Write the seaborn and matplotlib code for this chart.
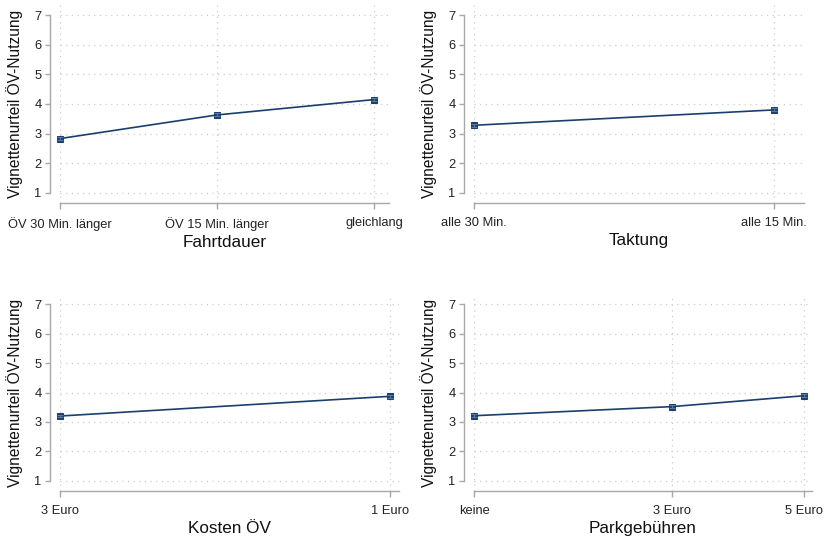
import matplotlib

matplotlib.use("Agg")

import matplotlib.pyplot as plt
import pandas as pd
import seaborn as sns

# panel data
fahrt_x = [0, 1, 2]
fahrt_labels = ["ÖV 30 Min. länger", "ÖV 15 Min. länger", "gleichlang"]
fahrt_mean = [2.83, 3.63, 4.15]
fahrt_ci = [0.05, 0.05, 0.05]

takt_x = [0, 1]
takt_labels = ["alle 30 Min.", "alle 15 Min."]
takt_mean = [3.28, 3.80]
takt_ci = [0.05, 0.05]

kosten_x = [0, 1]
kosten_labels = ["3 Euro", "1 Euro"]
kosten_mean = [3.20, 3.87]
kosten_ci = [0.05, 0.05]

park_x = [0, 3, 5]
park_labels = ["keine", "3 Euro", "5 Euro"]
park_mean = [3.21, 3.52, 3.89]
park_ci = [0.05, 0.05, 0.05]

y_ticks = [1, 2, 3, 4, 5, 6, 7]
y_label = "Vignettenurteil ÖV-Nutzung"

NAVY = "#1a3f6f"
AXIS_GREY = "#a8a8a8"
GRID_GREY = "#cccccc"

W, H = 827, 542

sns.set_theme(style="white")
plt.rcParams["font.family"] = ["Liberation Sans", "DejaVu Sans"]

fig = plt.figure(figsize=(W / 100, H / 100), dpi=100)


def rect(l, r, t, b):
    return [l / W, 1 - b / H, (r - l) / W, (b - t) / H]


panels = [
    (rect(60, 389, 5, 203), fahrt_x, fahrt_labels, fahrt_mean, fahrt_ci, "Fahrtdauer", 2.095),
    (rect(474, 804, 5, 203), takt_x, takt_labels, takt_mean, takt_ci, "Taktung", 1.10),
    (rect(60, 399, 294, 491), kosten_x, kosten_labels, kosten_mean, kosten_ci, "Kosten ÖV", 1.027),
    (rect(474, 812, 294, 491), park_x, park_labels, park_mean, park_ci, "Parkgebühren", 5.12),
]

for pos, xs, labels, means, ci, xlabel, xmax in panels:
    ax = fig.add_axes(pos)
    df = pd.DataFrame({"x": xs, "y": means})
    sns.lineplot(data=df, x="x", y="y", ax=ax, color=NAVY, linewidth=1.2,
                 marker="s", markersize=4.5, markeredgecolor=NAVY,
                 errorbar=None, clip_on=False, zorder=3)
    ax.errorbar(xs, means, yerr=ci, fmt="none", ecolor="#5a7aa0", elinewidth=0.8,
                capsize=2, capthick=0.8, clip_on=False, zorder=4)

    ax.set_xlim(0, xmax)
    ax.set_ylim(0.65, 7.35)
    ax.set_xticks(xs)
    ax.set_xticklabels(labels)
    ax.set_yticks(y_ticks)

    ax.grid(True, linestyle=(0, (1, 3.5)), color=GRID_GREY, linewidth=0.9)
    ax.set_axisbelow(True)

    for side in ["top", "right"]:
        ax.spines[side].set_visible(False)
    ax.spines["left"].set_position(("outward", 7.2))
    ax.spines["left"].set_bounds(1, 7)
    for side in ["left", "bottom"]:
        ax.spines[side].set_color(AXIS_GREY)
        ax.spines[side].set_linewidth(1.0)

    ax.tick_params(axis="x", direction="out", length=4.5, width=1.0, color=AXIS_GREY,
                   labelsize=9.3, labelcolor="#222222", pad=5.5, bottom=True)
    ax.tick_params(axis="y", direction="out", length=3.5, width=1.0, color=AXIS_GREY,
                   labelsize=9.3, labelcolor="#222222", pad=2.5, left=True)

    ax.set_xlabel(xlabel, fontsize=12.3, color="#111111", labelpad=3)
    ax.set_ylabel(y_label, fontsize=11.2, color="#111111", labelpad=8)

fig.savefig("out.png", dpi=100)
plt.close(fig)
